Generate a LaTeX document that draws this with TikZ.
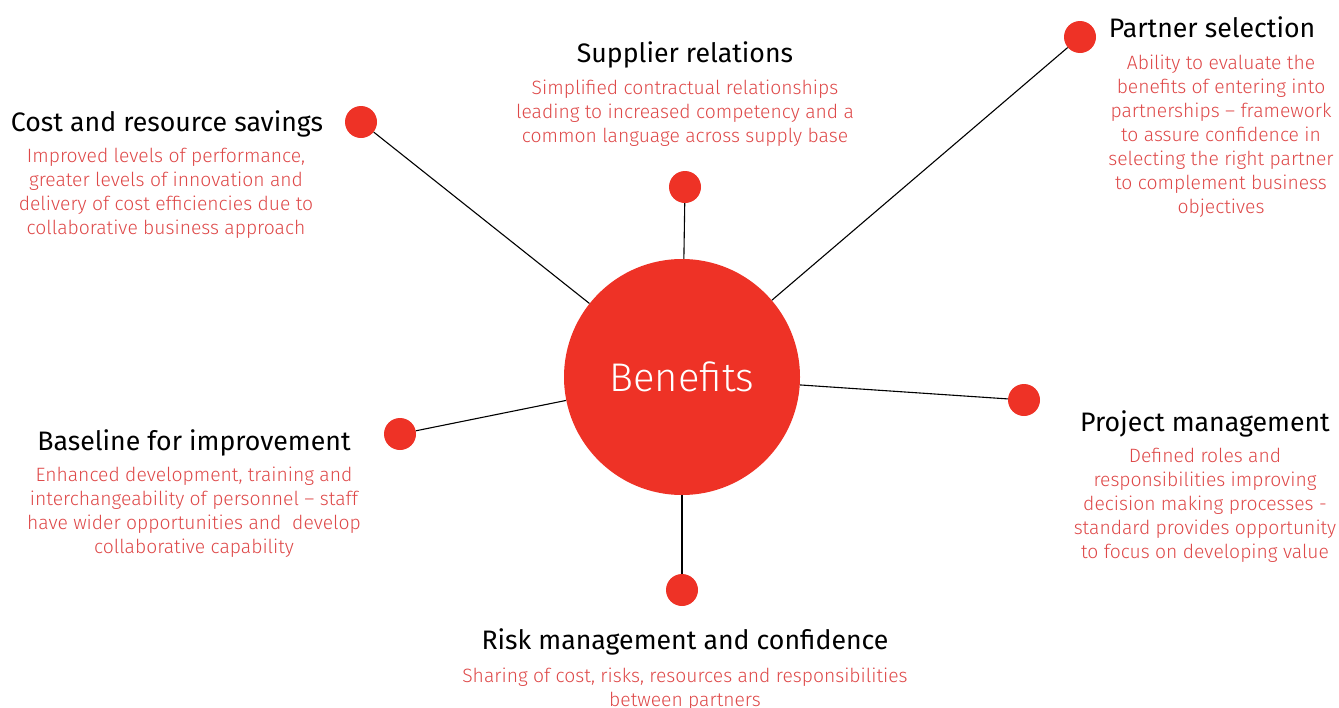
\documentclass[tikz,border=0pt]{standalone}
\usepackage{fontspec}
\setmainfont{Fira Sans}
\newfontfamily\lightfont{Fira Sans Light}
\definecolor{dotred}{RGB}{238,50,38}
\definecolor{txtred}{RGB}{222,72,72}
\tikzset{
  dot/.style={circle, fill=dotred, minimum size=32pt, inner sep=0pt},
  ttl/.style={anchor=base, inner sep=0pt, align=center, text=black, font=\fontsize{26.7}{30}\selectfont},
  dsc/.style={anchor=base, inner sep=0pt, align=center, text=txtred, font=\lightfont\fontsize{19.3}{24}\selectfont},
  spoke/.style={line width=1.1pt, black}
}
\begin{document}
\begin{tikzpicture}[x=1pt,y=-1pt]
\useasboundingbox (0,0) rectangle (1339,707);
\node[circle, fill=dotred, minimum size=236pt, inner sep=0pt, text=white, font=\lightfont\fontsize{40}{48}\selectfont] (ben) at (682,377) {Benefits};
\node[dot] (d1) at (361,122) {};
\node[dot] (d2) at (685,187) {};
\node[dot] (d3) at (1080,37) {};
\node[dot] (d4) at (1024,400) {};
\node[dot] (d5) at (400,434) {};
\node[dot] (d6) at (682,590) {};
\foreach \d in {d1,d2,d3,d4,d5,d6} \draw[spoke] (ben) -- (\d);

\node[ttl] (t1) at (167,131) {Cost and resource savings};
\node[dsc] (s1) at (166,234) {Improved levels of performance,\\greater levels of innovation and\\delivery of cost efficiencies due to\\collaborative business approach};

\node[ttl] (t2) at (685,62) {Supplier relations};
\node[dsc] (s2) at (685,142) {Simplified contractual relationships\\leading to increased competency and a\\common language across supply base};

\node[ttl] (t3) at (1212,37) {Partner selection};
\node[dsc] (s3) at (1221,213) {Ability to evaluate the\\benefits of entering into\\partnerships – framework\\to assure confidence in\\selecting the right partner\\to complement business\\objectives};

\node[ttl] (t4) at (1205,431) {Project management};
\node[dsc] (s4) at (1205,558) {Defined roles and\\responsibilities improving\\decision making processes -\\standard provides opportunity\\to focus on developing value};

\node[ttl] (t5) at (194,450) {Baseline for improvement};
\node[dsc] (s5) at (194,553) {Enhanced development, training and\\interchangeability of personnel – staff\\have wider opportunities and~ develop\\collaborative capability};

\node[ttl] (t6) at (685,649) {Risk management and confidence};
\node[dsc] (s6) at (685,706) {Sharing of cost, risks, resources and responsibilities\\between partners};
\end{tikzpicture}
\end{document}
